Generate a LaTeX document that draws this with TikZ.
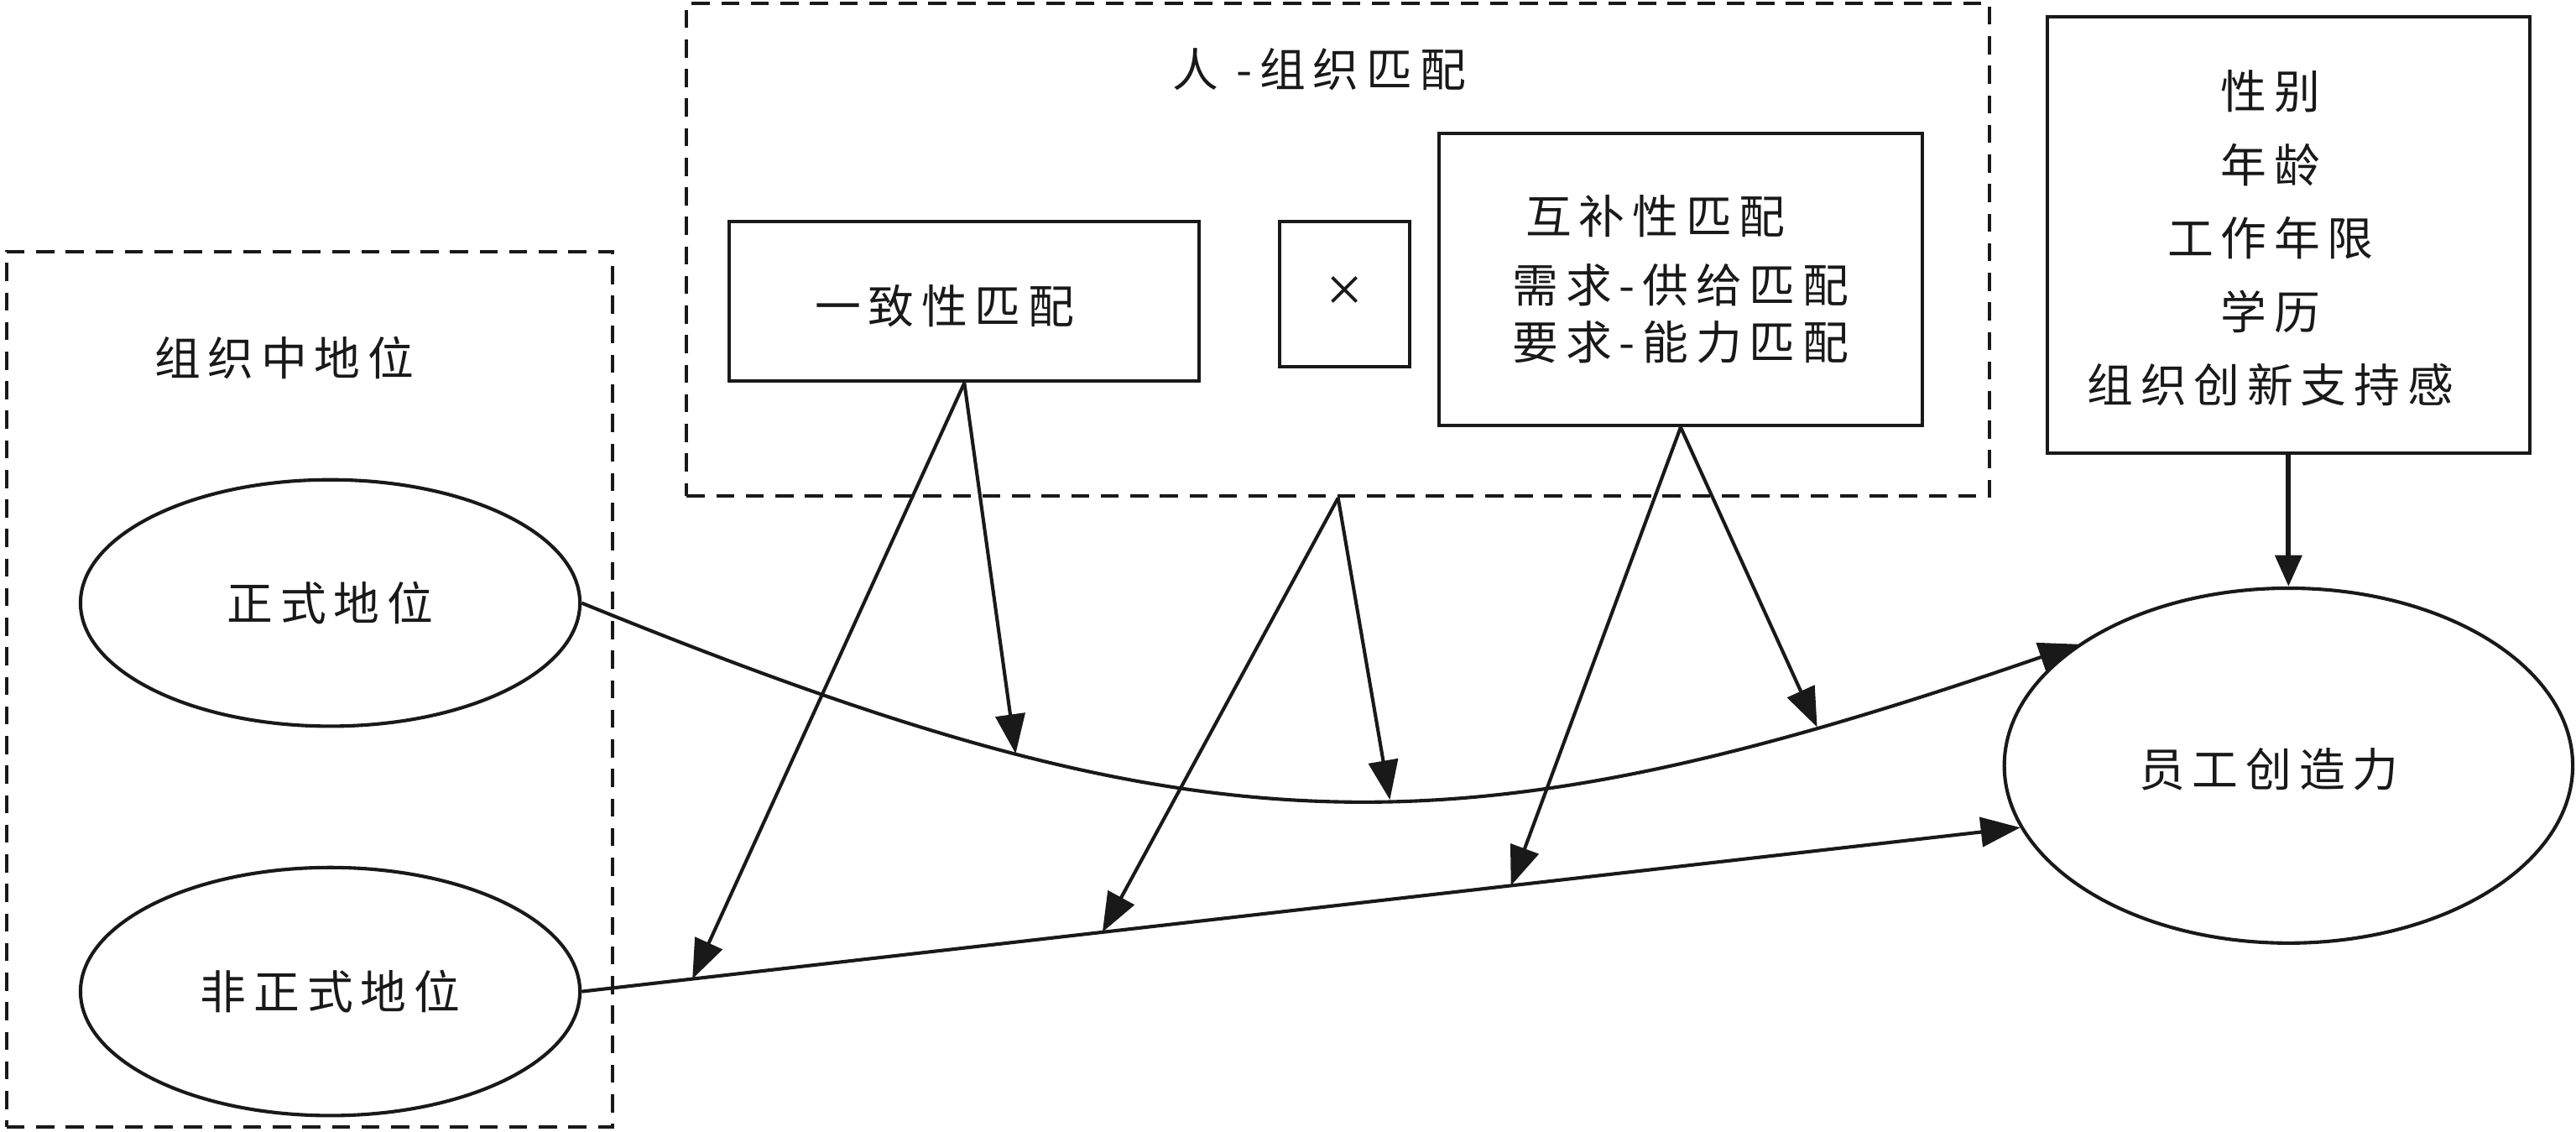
\documentclass[tikz,border=0pt]{standalone}
\usepackage{fontspec}
\newfontfamily\cjk[LetterSpace=16]{Noto Sans CJK SC}
\newfontfamily\timesfont{Liberation Serif}
\usetikzlibrary{shapes.geometric,arrows.meta}
\begin{document}
\begin{tikzpicture}[x=1pt,y=-1pt,
  every node/.style={font=\cjk\fontsize{28}{34}\selectfont, inner sep=0pt, text=black!90},
  solidbox/.style={draw=black!90, line width=2.1pt, rectangle},
  dashbox/.style={draw=black!90, line width=2.1pt, rectangle, dash pattern=on 11pt off 7pt},
  oval/.style={draw=black!90, ellipse, line width=2.1pt},
  link/.style={draw=black!90, line width=2.1pt, -{Triangle[length=24pt,width=18pt]}},
  ctrllink/.style={draw=black!90, line width=3pt, -{Triangle[length=19pt,width=16pt]}},
  plain/.style={draw=none}
]
\useasboundingbox (0,0) rectangle (1568,688.5);

% dashed groups
\node[dashbox, minimum width=369pt, minimum height=533pt] (posbox) at (188.5,419.5) {};
\node[dashbox, minimum width=793pt, minimum height=300pt] (pof) at (814.5,152) {};

% labels of groups
\node[plain] (posl) at (173,218) {组织中地位};
\node[plain] (pofl) at (803,42) {人 -组织匹配};

% boxes
\node[solidbox, minimum width=286pt, minimum height=97pt] (b1) at (587,183.5) {};
\node[plain] (b1t) at (575,186) {一致性匹配};
\node[solidbox, minimum width=79pt, minimum height=88pt, font=\timesfont\fontsize{40}{40}\selectfont] (bx) at (818.5,179) {×};
\node[solidbox, minimum width=294pt, minimum height=178pt, align=left,
      font=\cjk\fontsize{28}{35}\selectfont] (b2) at (1023,170)
      {\hspace*{8pt}互补性匹配\\[7pt]需求-供给匹配\\要求-能力匹配};
\node[solidbox, minimum width=294pt, minimum height=266pt] (ctrl) at (1393,143) {};
\node[plain, align=center, font=\cjk\fontsize{28}{44.75}\selectfont] (ctrlt) at (1382,145)
      {性别\\年龄\\工作年限\\学历\\组织创新支持感};

% ellipses
\node[oval, minimum width=304pt, minimum height=150pt] (e1) at (201,367) {正式地位};
\node[oval, minimum width=304pt, minimum height=151pt] (e2) at (201,603.5) {非正式地位};
\node[oval, minimum width=346pt, minimum height=216pt] (e3) at (1393,466) {};
\node[plain] (e3t) at (1381,468) {员工创造力};

% main paths
\draw[link] (e1.east) .. controls (730,520) and (880,525) .. (e3.150)
  coordinate[pos=0.27] (c1) coordinate[pos=0.55] (c2) coordinate[pos=0.85] (c3);
\draw[link] (e2.east) -- (e3.193)
  coordinate[pos=0.077] (d1) coordinate[pos=0.362] (d2) coordinate[pos=0.646] (d3);

% moderating arrows
\draw[link] (b1.south) -- (c1);
\draw[link] (b1.south) -- (d1);
\draw[link] (pof.south) -- (c2);
\draw[link] (pof.south) -- (d2);
\draw[link] (b2.south) -- (c3);
\draw[link] (b2.south) -- (d3);

% controls
\draw[ctrllink] (ctrl.south) -- (e3.north);
\end{tikzpicture}
\end{document}
